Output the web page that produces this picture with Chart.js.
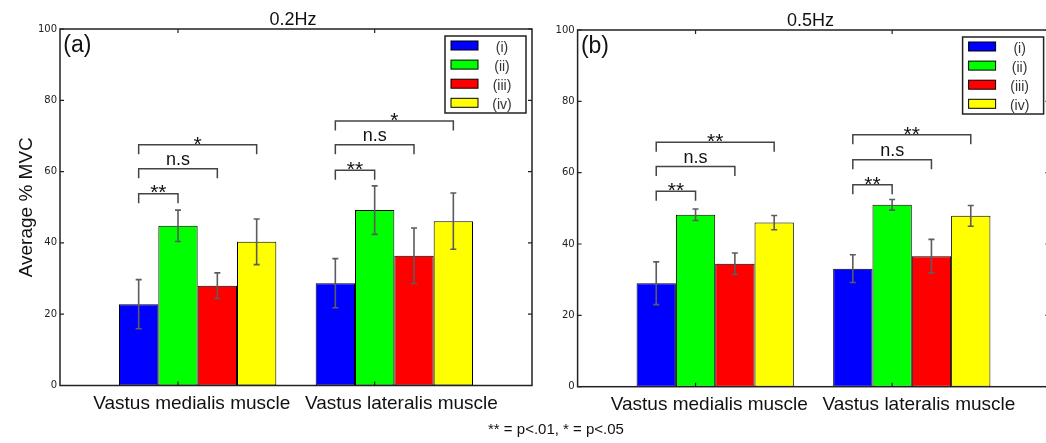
<!DOCTYPE html>
<html>
<head>
<meta charset="utf-8">
<script src="https://cdn.jsdelivr.net/npm/chart.js@4.4.0/dist/chart.umd.min.js"></script>
<style>
  html, body { margin: 0; padding: 0; background: #fff; overflow: hidden; width: 1046px; height: 443px; }
  #wrap { position: relative; width: 1046px; height: 443px; overflow: hidden; }
  canvas { position: absolute; top: 0; }
  #c02 { left: 0; }
  #c05 { left: 520px; }
  #note { position: absolute; left: 356px; width: 400px; top: 420px; text-align: center;
          font: 15px "Liberation Sans", Arial, sans-serif; line-height: 17px; color: #111; }
</style>
</head>
<body>
<div id="wrap">
  <canvas id="c02" width="545" height="443"></canvas>
  <canvas id="c05" width="540" height="443"></canvas>
  <div id="note">** = p&lt;.01, * = p&lt;.05</div>
</div>
<script>
// Muscles (x groups) and contraction conditions (bars within a group)
const muscles = ['Vastus medialis muscle', 'Vastus lateralis muscle'];
const conditions = ['(i)', '(ii)', '(iii)', '(iv)'];
const yTicks = [0, 20, 40, 60, 80, 100];

// 0.2 Hz: mean % MVC per muscle, and error bar half-lengths
const meanI_02   = [22.8, 28.7];
const meanII_02  = [44.8, 49.2];
const meanIII_02 = [28.0, 36.4];
const meanIV_02  = [40.3, 46.1];
const errI_02    = [6.9, 6.9];
const errII_02   = [4.4, 6.8];
const errIII_02  = [3.6, 7.8];
const errIV_02   = [6.4, 7.9];

// 0.5 Hz
const meanI_05   = [29.0, 33.1];
const meanII_05  = [48.2, 51.0];
const meanIII_05 = [34.5, 36.6];
const meanIV_05  = [46.0, 47.9];
const errI_05    = [6.0, 3.9];
const errII_05   = [1.6, 1.5];
const errIII_05  = [3.0, 4.7];
const errIV_05   = [2.0, 2.9];

// Significance brackets: [muscle, from condition, to condition, bracket level (% MVC), mark]
const sig02 = [
  [0, 0, 1, 53.8, '**'], [0, 0, 2, 60.8, 'n.s'], [0, 0, 3, 67.5, '*'],
  [1, 0, 1, 60.4, '**'], [1, 0, 2, 67.5, 'n.s'], [1, 0, 3, 74.2, '*']
];
const sig05 = [
  [0, 0, 1, 54.8, '**'], [0, 0, 2, 61.7, 'n.s'], [0, 0, 3, 68.5, '**'],
  [1, 0, 1, 56.6, '**'], [1, 0, 2, 63.6, 'n.s'], [1, 0, 3, 70.6, '**']
];

// ---- styling ----
const barColors = ['#0000ff', '#00ff00', '#ff0000', '#ffff00'];
const SANS = '"Liberation Sans", Arial, sans-serif';
const labelSpot = [-0.03, 1.036];   // where the muscle names sit on the x axis

function makeDatasets(means, errs) {
  return conditions.map((c, i) => ({
    label: c,
    data: muscles.map((m, j) => ({ x: j, y: means[i][j] })),
    errors: errs[i],
    backgroundColor: barColors[i],
    borderColor: '#000',
    borderWidth: 1,
    borderSkipped: false,
    categoryPercentage: 0.8,
    barPercentage: 1.0
  }));
}

// error bars on top of each bar
const errorBars = {
  id: 'errorBars',
  afterDatasetsDraw(chart) {
    const { ctx } = chart, y = chart.scales.y;
    ctx.save();
    ctx.strokeStyle = '#5c5c5c';
    ctx.lineWidth = 1.6;
    chart.data.datasets.forEach((ds, i) => {
      chart.getDatasetMeta(i).data.forEach((bar, j) => {
        const m = ds.data[j].y, e = ds.errors[j];
        const t = y.getPixelForValue(m + e), b = y.getPixelForValue(m - e);
        ctx.beginPath();
        ctx.moveTo(bar.x, t); ctx.lineTo(bar.x, b);
        ctx.moveTo(bar.x - 3, t); ctx.lineTo(bar.x + 3, t);
        ctx.moveTo(bar.x - 3, b); ctx.lineTo(bar.x + 3, b);
        ctx.stroke();
      });
    });
    ctx.restore();
  }
};

// box frame with inward tick marks, panel title, tag, legend and brackets
const decorations = {
  id: 'decorations',
  afterDraw(chart, args, opts) {
    const { ctx, chartArea: a } = chart, y = chart.scales.y;
    ctx.save();
    // frame
    ctx.strokeStyle = '#222';
    ctx.lineWidth = 1.5;
    ctx.strokeRect(a.left, a.top, a.right - a.left, a.bottom - a.top);
    // inward ticks
    ctx.lineWidth = 1.2;
    ctx.beginPath();
    yTicks.forEach(v => {
      const p = y.getPixelForValue(v);
      ctx.moveTo(a.left, p); ctx.lineTo(a.left + 4, p);
      ctx.moveTo(a.right, p); ctx.lineTo(a.right - 4, p);
    });
    chart.getDatasetMeta(1).data.forEach(bar => {
      ctx.moveTo(bar.x, a.bottom); ctx.lineTo(bar.x, a.bottom - 4);
      ctx.moveTo(bar.x, a.top); ctx.lineTo(bar.x, a.top + 4);
    });
    ctx.stroke();

    // panel title and tag
    ctx.fillStyle = '#111';
    ctx.textBaseline = 'alphabetic';
    ctx.textAlign = 'center';
    ctx.font = '18px ' + SANS;
    ctx.fillText(opts.title, (a.left + a.right) / 2 - 3, a.top - 4.4);
    ctx.textAlign = 'left';
    ctx.font = '23px ' + SANS;
    ctx.fillText(opts.tag, a.left + 3.3, a.top + 23);

    // significance brackets
    ctx.strokeStyle = '#444';
    ctx.lineWidth = 1.5;
    opts.sig.forEach(([g, from, to, level, mark]) => {
      const xa = chart.getDatasetMeta(from).data[g].x;
      const xb = chart.getDatasetMeta(to).data[g].x;
      const yl = y.getPixelForValue(level);
      ctx.beginPath();
      ctx.moveTo(xa, yl + 9.5); ctx.lineTo(xa, yl); ctx.lineTo(xb, yl); ctx.lineTo(xb, yl + 9.5);
      ctx.stroke();
      ctx.fillStyle = '#111';
      ctx.textAlign = 'center';
      if (mark === 'n.s') {
        ctx.font = '18px ' + SANS;
        ctx.fillText(mark, (xa + xb) / 2, yl - 3.4);
      } else {
        ctx.font = '21px ' + SANS;
        ctx.fillText(mark, (xa + xb) / 2, yl + 5.7);
      }
    });

    // legend
    const bx = a.left + 385, by = a.top + 7, bw = 81, bh = 77;
    ctx.fillStyle = '#fff';
    ctx.fillRect(bx, by, bw, bh);
    ctx.strokeStyle = '#222';
    ctx.lineWidth = 1.5;
    ctx.strokeRect(bx, by, bw, bh);
    ctx.lineWidth = 1;
    chart.data.datasets.forEach((ds, i) => {
      const sy = by + 5 + i * 19.1;
      ctx.fillStyle = ds.backgroundColor;
      ctx.fillRect(bx + 6, sy, 27, 9);
      ctx.strokeStyle = '#000';
      ctx.strokeRect(bx + 6, sy, 27, 9);
      ctx.fillStyle = '#333';
      ctx.textAlign = 'center';
      ctx.font = '14px ' + SANS;
      ctx.fillText(ds.label, bx + 57, sy + 4.5 + 6.6);
    });
    ctx.restore();
  }
};

function makeChart(id, means, errs, opts) {
  return new Chart(document.getElementById(id), {
    type: 'bar',
    data: { datasets: makeDatasets(means, errs) },
    plugins: [errorBars, decorations],
    options: {
      responsive: false,
      devicePixelRatio: 1,
      animation: false,
      layout: { padding: { left: 0, top: opts.top, right: opts.right, bottom: 0 } },
      plugins: {
        legend: { display: false },
        tooltip: { enabled: false },
        decorations: { title: opts.title, tag: opts.tag, sig: opts.sig }
      },
      scales: {
        x: {
          type: 'linear', min: -0.7, max: 1.7,
          offset: false,
          grid: { display: false, drawTicks: false, offset: false },
          border: { display: false },
          afterBuildTicks: s => { s.ticks = labelSpot.map(v => ({ value: v })); },
          afterFit: s => { s.height = opts.xHeight; },
          ticks: {
            callback: (v, i) => muscles[i],
            autoSkip: false, maxRotation: 0, minRotation: 0,
            padding: 6.5,
            color: '#111',
            font: { family: SANS, size: 19 }
          }
        },
        y: {
          min: 0, max: 100,
          grid: { display: false, drawTicks: false },
          border: { display: false },
          afterBuildTicks: s => { s.ticks = yTicks.map(v => ({ value: v })); },
          afterFit: s => { s.width = opts.yWidth; },
          ticks: { padding: 3, color: '#222', font: { family: 'DejaVu Sans', size: 10 } },
          title: {
            display: opts.yTitle,
            text: 'Average % MVC',
            color: '#111',
            font: { family: SANS, size: 19 },
            padding: { top: 15, bottom: 0 }
          }
        }
      }
    }
  });
}

makeChart('c02',
  [meanI_02, meanII_02, meanIII_02, meanIV_02],
  [errI_02, errII_02, errIII_02, errIV_02],
  { title: '0.2Hz', tag: '(a)', sig: sig02, top: 29, right: 13, xHeight: 57.5, yWidth: 60, yTitle: true });

makeChart('c05',
  [meanI_05, meanII_05, meanIII_05, meanIV_05],
  [errI_05, errII_05, errIII_05, errIV_05],
  { title: '0.5Hz', tag: '(b)', sig: sig05, top: 30, right: 10.6, xHeight: 56.3, yWidth: 57.6, yTitle: false });
</script>
</body>
</html>
